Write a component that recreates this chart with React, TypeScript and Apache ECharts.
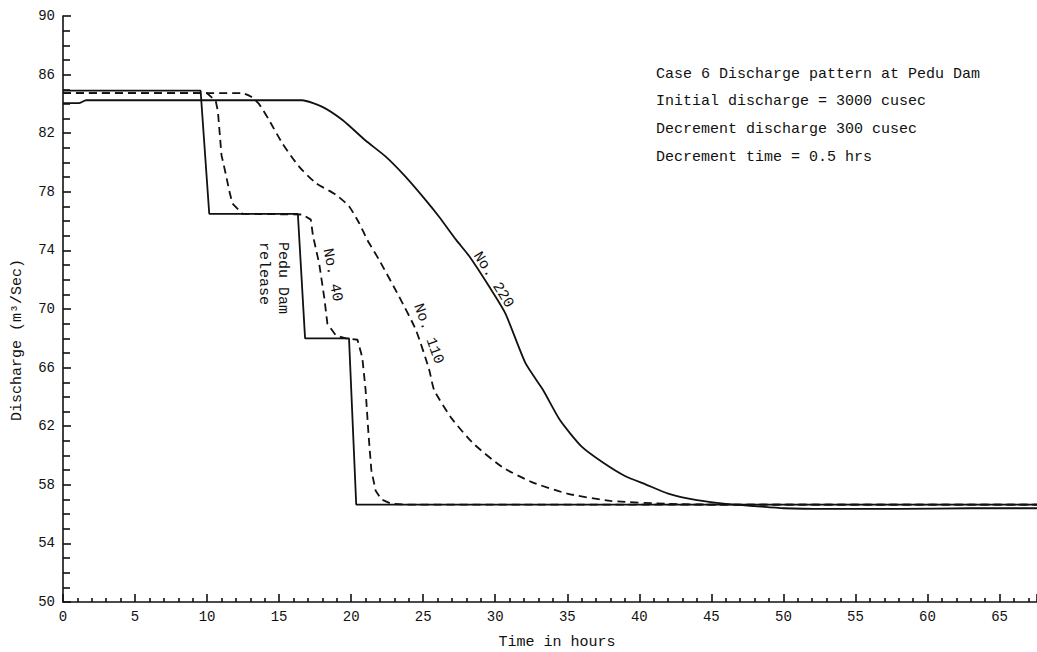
import React, { useEffect, useRef } from "react";
import * as echarts from "echarts";

// Time (hours) and discharge (m3/s)
const peduX = [0, 9.55, 10.15, 16.3, 16.8, 19.85, 20.35, 67.6];
const peduY = [84.9, 84.9, 76.5, 76.5, 68.0, 68.0, 56.65, 56.65];

const no40X = [0, 10.0, 10.6, 10.75, 11.0, 11.3, 11.53, 11.76, 12.45, 16.6, 17.2, 17.35, 17.78, 18.13, 18.35, 18.94, 19.63, 20.44, 20.77, 21.0, 21.2, 21.4, 21.7, 22.1, 22.8, 24, 67.6];
const no40Y = [84.73, 84.73, 84.2, 83.5, 80.5, 79.2, 78.1, 77.2, 76.5, 76.45, 76.1, 75.0, 73.1, 70.8, 69.0, 68.2, 68.0, 67.9, 66.7, 64.5, 61.5, 59.0, 57.6, 57.0, 56.7, 56.65, 56.65];

const no110X = [0, 12.45, 13.03, 13.6, 14.3, 15.23, 16.4, 17.55, 18.94, 19.86, 20.56, 21.13, 21.94, 23.33, 24.49, 25.42, 25.76, 27.0, 28.5, 30.5, 32.5, 35, 38, 42, 45, 67.6];
const no110Y = [84.73, 84.73, 84.5, 84.0, 82.9, 81.3, 79.7, 78.6, 77.8, 77.0, 75.85, 74.7, 73.35, 70.84, 68.57, 65.84, 64.47, 62.5, 60.8, 59.2, 58.2, 57.4, 56.9, 56.7, 56.65, 56.65];

const no220X = [0, 1.1, 1.6, 16.6, 18.0, 19.4, 21.0, 22.4, 23.8, 25.2, 26.1, 27.3, 28.2, 29.6, 30.7, 32.1, 33.3, 34.5, 36, 37.5, 39, 40.5, 42, 44, 46, 48, 50, 53, 58, 63, 67.6];
const no220Y = [84.05, 84.05, 84.25, 84.25, 83.8, 82.9, 81.5, 80.4, 79.0, 77.4, 76.3, 74.7, 73.6, 71.5, 69.7, 66.3, 64.5, 62.4, 60.6, 59.5, 58.6, 58.0, 57.4, 56.95, 56.7, 56.55, 56.4, 56.35, 56.35, 56.4, 56.4];

const notes = [
  "Case 6 Discharge pattern at Pedu Dam",
  "Initial discharge = 3000 cusec",
  "Decrement discharge 300 cusec",
  "Decrement time = 0.5 hrs",
];

const yName = "Discharge (m³/Sec)";
const xName = "Time in hours";

const zip = (xs: number[], ys: number[]) => xs.map((x, i) => [x, ys[i]]);

const FONT = "Liberation Mono, DejaVu Sans Mono, monospace";
const INK = "#111";

export default function App() {
  const ref = useRef<HTMLDivElement>(null);
  useEffect(() => {
    if (!ref.current) return;
    const chart = echarts.init(ref.current, undefined, { renderer: "svg" });
    const solid = { color: INK, width: 1.8, type: "solid" as const };
    const dashed = { color: INK, width: 1.8, type: [8, 5] as any };
    const txt = (text: string, x: number, y: number, rot: number, size = 15, align = "center") => ({
      type: "text",
      x,
      y,
      rotation: rot,
      style: {
        text,
        font: `${size}px ${FONT}`,
        fill: INK,
        textAlign: align,
        textVerticalAlign: "middle",
      },
    });
    chart.setOption({
      animation: false,
      backgroundColor: "#fff",
      grid: { left: 63, right: 0, top: 16, bottom: 50 },
      xAxis: {
        type: "value",
        min: 0,
        max: 67.6,
        interval: 5,
        axisLine: { show: true, lineStyle: { color: INK, width: 1.6 } },
        axisTick: { show: true, inside: true, length: 8, lineStyle: { color: INK, width: 1.6 } },
        minorTick: { show: true, splitNumber: 5, length: 4, lineStyle: { color: INK, width: 1.6 } },
        splitLine: { show: false },
        axisLabel: {
          fontFamily: FONT,
          fontSize: 14,
          color: INK,
          margin: 8,
          showMaxLabel: false,
        },
      },
      yAxis: {
        type: "value",
        min: 50,
        max: 90,
        interval: 4,
        axisLine: { show: true, lineStyle: { color: INK, width: 1.6 } },
        axisTick: { show: true, inside: true, length: 8, lineStyle: { color: INK, width: 1.6 } },
        minorTick: { show: true, splitNumber: 4, length: 7, lineStyle: { color: INK, width: 1.6 } },
        splitLine: { show: false },
        axisLabel: { fontFamily: FONT, fontSize: 14, color: INK, margin: 8 },
      },
      series: [
        { type: "line", name: "Pedu Dam release", data: zip(peduX, peduY), showSymbol: false, lineStyle: solid },
        { type: "line", name: "No. 40", data: zip(no40X, no40Y), showSymbol: false, lineStyle: dashed },
        { type: "line", name: "No. 110", data: zip(no110X, no110Y), showSymbol: false, smooth: 0.2, lineStyle: dashed },
        { type: "line", name: "No. 220", data: zip(no220X, no220Y), showSymbol: false, smooth: 0.2, lineStyle: solid },
      ],
      graphic: [
        ...notes.map((t, i) => txt(t, 656, 74 + i * 27.7, 0, 15, "left")),
        txt(yName, 17, 340, Math.PI / 2, 15),
        txt(xName, 557, 642, 0, 15),
        txt("Pedu Dam", 282, 242, -Math.PI / 2, 15, "left"),
        txt("release", 263, 242, -Math.PI / 2, 15, "left"),
        txt("No. 40", 332, 275, -(79 * Math.PI) / 180, 15),
        txt("No. 110", 428, 334, -(70 * Math.PI) / 180, 15),
        txt("No. 220", 493, 280, -(58 * Math.PI) / 180, 15),
      ],
    });
    return () => chart.dispose();
  }, []);
  return (
    <div
      ref={ref}
      style={{ position: "absolute", left: 0, top: 0, width: 1037, height: 652, background: "#fff" }}
    />
  );
}
